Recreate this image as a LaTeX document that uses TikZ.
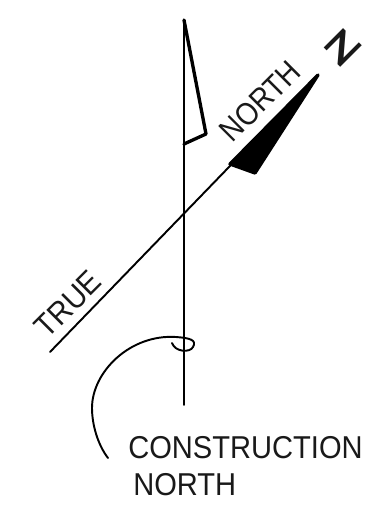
\documentclass[tikz,border=0pt]{standalone}
\usepackage{fontspec}
\setmainfont{Liberation Sans}
\usepackage{xcolor}
\usetikzlibrary{positioning}

\begin{document}
\begin{tikzpicture}[
  x=0.02cm, y=-0.02cm,
  every node/.style={align=left, inner sep=0pt, font=\fontsize{18}{24}\selectfont, text=black!90},
  thinline/.style={line width=1.1pt, line cap=round, line join=round},
  thickline/.style={line width=1.9pt, line cap=round, line join=round}
]
\useasboundingbox (0,0) rectangle (381,510);

\coordinate (top) at (184,20);
\coordinate (bottom) at (184,405);
\coordinate (flagcorner) at (206,134);
\coordinate (flagfoot) at (184,144);
\coordinate (trueend) at (50,352);
\coordinate (truetip) at (318,75);
\coordinate (arrowbase) at (230,164);
\coordinate (arrowcorner) at (255,173);

\node (north) [rotate=45, xscale=0.88] at (260,101) {NORTH};
\node (true) [rotate=45, xscale=0.92] at (68,304) {TRUE};
\node (z) [rotate=45, xscale=1.5, font=\fontsize{21}{24}\selectfont\bfseries] at (342,48) {Z};
\node (construction) [anchor=west, xscale=0.92] at (128,448) {CONSTRUCTION};
\node (northb) [anchor=west, xscale=0.92] at (133,485) {NORTH};

\draw[thinline] (top) -- (bottom);
\draw[thickline] (top) -- (flagcorner) -- (flagfoot);
\draw[thinline] (trueend) -- (truetip);
\fill[thickline, draw=black, fill=black] (arrowbase) -- (truetip) -- (arrowcorner) -- cycle;

\draw[thinline] (172,343) .. controls (175,352) and (190,353) .. (193,347)
  .. controls (197,340) and (190,338) .. (176,337)
  .. controls (130,334) and (92,372) .. (92,408)
  .. controls (92,425) and (98,445) .. (108,458);
\end{tikzpicture}
\end{document}
